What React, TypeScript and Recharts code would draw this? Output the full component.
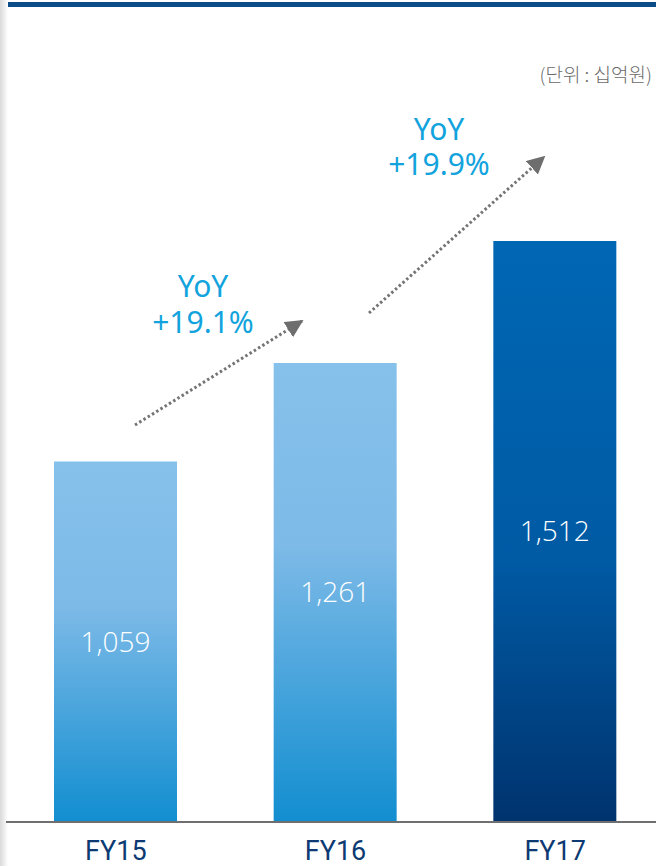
import { BarChart, Bar, XAxis, YAxis, LabelList, Cell } from "recharts";

const categories = ["FY15", "FY16", "FY17"];
const revenue = [1059, 1261, 1512];
const barFills = ["url(#lightGrad)", "url(#lightGrad)", "url(#darkGrad)"];
const growthLabels = ["+19.1%", "+19.9%"];
const unitLabel = "(단위 : 십억원)";

const data = categories.map((name, i) => ({ name, value: revenue[i] }));

const fmt = (v: number) => v.toLocaleString("en-US");

function AxisTick(props: any) {
  const { x, y, payload } = props;
  return (
    <text
      x={x}
      y={y + 38}
      textAnchor="middle"
      fill="#0d3a72"
      fontSize={27}
      fontWeight={400}
      fontFamily="Roboto, 'Noto Sans', sans-serif"
    >
      {payload.value}
    </text>
  );
}

export default function App() {
  const yoyStyle = {
    fontFamily: "'Noto Sans', sans-serif",
    fontSize: 30,
    fill: "#12a3dd",
  };
  return (
    <div
      style={{
        position: "absolute",
        left: 0,
        top: 0,
        width: 656,
        height: 866,
        overflow: "hidden",
        background: "#fff",
      }}
    >
      {/* left edge shadow + top rule */}
      <div
        style={{
          position: "absolute",
          left: 0,
          top: 0,
          width: 8,
          height: 866,
          background: "linear-gradient(to right, #d9d9d9, #ffffff)",
        }}
      />
      <div
        style={{
          position: "absolute",
          left: 8,
          top: 2,
          width: 648,
          height: 5,
          background: "#0b4c89",
        }}
      />
      <div style={{ position: "absolute", left: 0, top: 0 }}>
        <BarChart
          width={665}
          height={866}
          data={data}
          margin={{ top: 40, right: 0, left: 6, bottom: 0 }}
        >
          <defs>
            <linearGradient id="lightGrad" x1="0" y1="0" x2="0" y2="1">
              <stop offset="0%" stopColor="#86c1eb" />
              <stop offset="40%" stopColor="#7dbae7" />
              <stop offset="100%" stopColor="#128ed0" />
            </linearGradient>
            <linearGradient id="darkGrad" x1="0" y1="0" x2="0" y2="1">
              <stop offset="0%" stopColor="#0067b4" />
              <stop offset="55%" stopColor="#005aa4" />
              <stop offset="100%" stopColor="#00336e" />
            </linearGradient>
          </defs>
          <XAxis
            dataKey="name"
            height={44}
            tickLine={false}
            tickSize={0}
            tickMargin={0}
            axisLine={{ stroke: "#6f6f6f", strokeWidth: 2 }}
            tick={<AxisTick />}
          />
          <YAxis hide domain={[318, 1925]} allowDataOverflow />
          <Bar dataKey="value" barSize={123} isAnimationActive={false}>
            {data.map((_, i) => (
              <Cell key={i} fill={barFills[i]} />
            ))}
            <LabelList
              dataKey="value"
              position="center"
              formatter={(v: any) => fmt(Number(v))}
              fill="#ffffff"
              fontSize={28}
              fontWeight={300}
              fontFamily="'Open Sans', 'Noto Sans', sans-serif"
            />
          </Bar>
        </BarChart>
      </div>
      {/* annotations */}
      <svg
        width={656}
        height={866}
        style={{ position: "absolute", left: 0, top: 0, pointerEvents: "none" }}
      >
        <defs>
          <marker
            id="arrowHead"
            viewBox="0 0 10 10"
            refX="9"
            refY="5"
            markerWidth="18"
            markerHeight="18"
            markerUnits="userSpaceOnUse"
            orient="auto"
          >
            <path d="M0,0 L10,5 L0,10 z" fill="#6e6e6e" />
          </marker>
        </defs>
        <line
          x1={135}
          y1={425}
          x2={302}
          y2={321}
          stroke="#747474"
          strokeWidth={3}
          strokeDasharray="2.5 2.5"
          markerEnd="url(#arrowHead)"
        />
        <line
          x1={369}
          y1={313}
          x2={544}
          y2={157}
          stroke="#747474"
          strokeWidth={3}
          strokeDasharray="2.5 2.5"
          markerEnd="url(#arrowHead)"
        />
        <text textAnchor="middle" style={yoyStyle}>
          <tspan x={203} y={297}>YoY</tspan>
          <tspan x={203} y={333}>{growthLabels[0]}</tspan>
        </text>
        <text textAnchor="middle" style={yoyStyle}>
          <tspan x={439} y={140}>YoY</tspan>
          <tspan x={439} y={175}>{growthLabels[1]}</tspan>
        </text>
        <text
          x={652}
          y={82}
          textAnchor="end"
          fill="#6a6a6a"
          fontSize={19}
          fontWeight={300}
          fontFamily="'Noto Sans CJK KR', sans-serif"
        >
          {unitLabel}
        </text>
      </svg>
    </div>
  );
}
